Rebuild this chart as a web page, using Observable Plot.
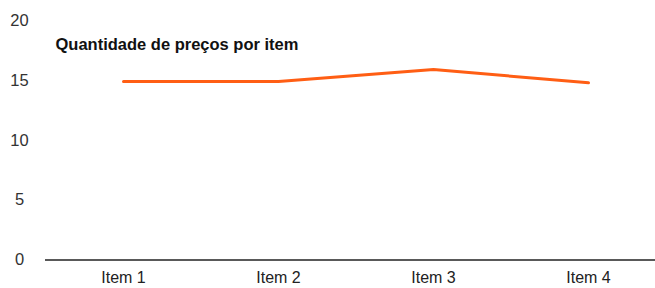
<!DOCTYPE html>
<html>
<head>
<meta charset="utf-8">
<script src="https://cdn.jsdelivr.net/npm/d3@7"></script>
<script src="https://cdn.jsdelivr.net/npm/@observablehq/plot@0.6"></script>
<style>
  html, body { margin: 0; padding: 0; background: #fff; }
  #chart svg { display: block; }
</style>
</head>
<body>
<div id="chart"></div>
<script>
const categories = ["Item 1", "Item 2", "Item 3", "Item 4"];
const values = [14.9, 14.9, 15.9, 14.8];
const yTicks = [0, 5, 10, 15, 20];
const title = "Quantidade de preços por item";

const data = categories.map((c, i) => ({item: c, value: values[i]}));

const font = "'Liberation Sans', Arial, sans-serif";

const chart = Plot.plot({
  width: 655,
  height: 288,
  marginLeft: 45,
  marginRight: 0,
  marginTop: 20,
  marginBottom: 29,
  style: {fontFamily: font, fontSize: "16px", color: "#222", background: "#fff"},
  x: {type: "point", domain: categories, range: [45, 665], padding: 0.5, label: null},
  y: {domain: [0, 20], range: [259.5, 20], label: null},
  marks: [
    Plot.axisY(yTicks, {tickSize: 0, tickPadding: 26, textAnchor: "middle", fill: "#333", fontSize: 16.5, label: null}),
    Plot.axisX({tickSize: 0, tickPadding: 12, fill: "#222", fontSize: 16, label: null}),
    Plot.ruleY([0], {stroke: "#222", strokeWidth: 1.5}),
    Plot.line(data, {x: "item", y: "value", stroke: "#ff5e14", strokeWidth: 3}),
    Plot.text([title], {frameAnchor: "top-left", dx: 10, dy: 24, textAnchor: "start", lineAnchor: "middle", fontWeight: "bold", fontSize: 16.5, fill: "#111"})
  ]
});
document.getElementById("chart").appendChild(chart);
</script>
</body>
</html>
